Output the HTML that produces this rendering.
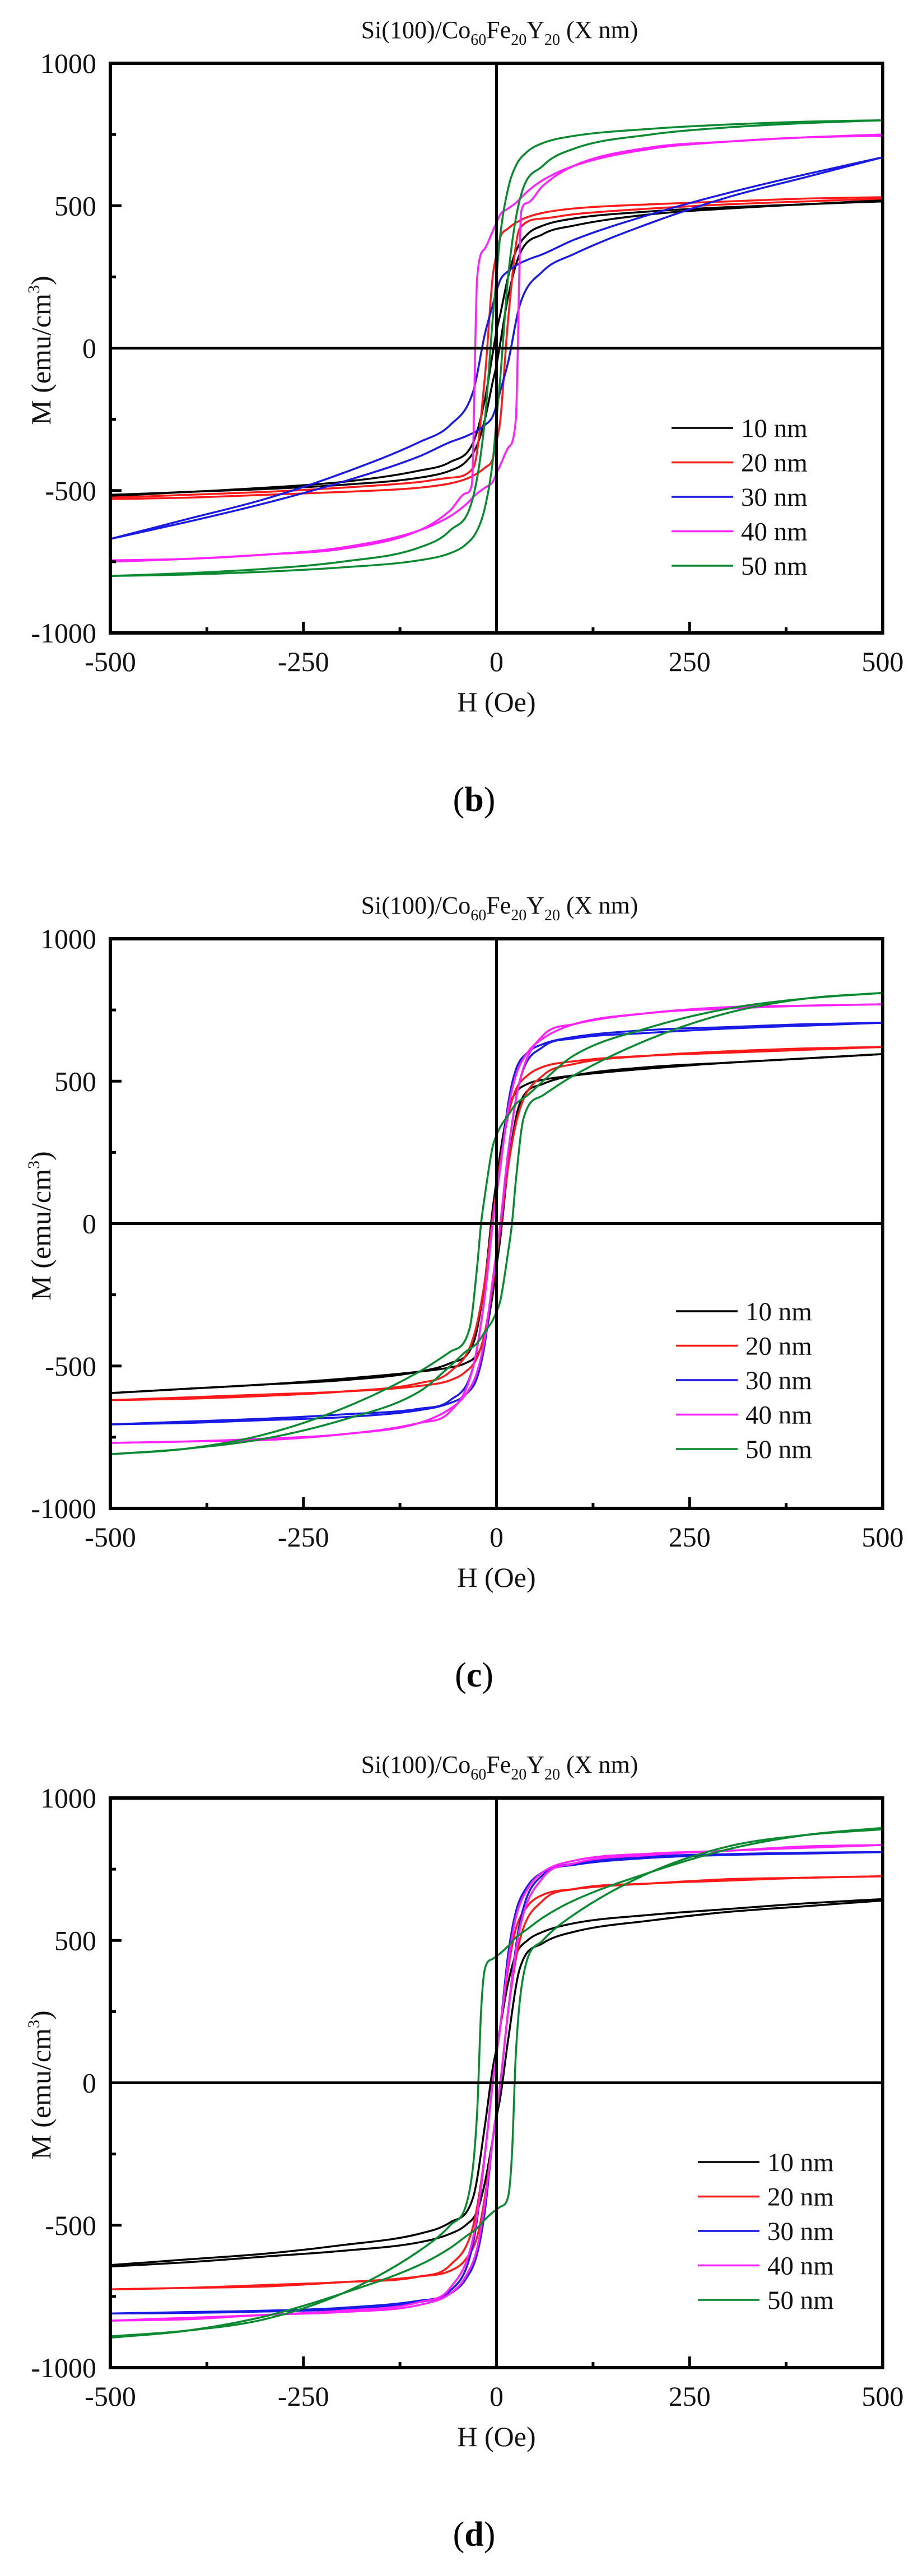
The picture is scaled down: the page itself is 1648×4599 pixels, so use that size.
<!DOCTYPE html>
<html><head><meta charset="utf-8">
<style>
html,body{margin:0;padding:0;background:#fff;}
svg{display:block;font-family:"Liberation Serif",serif;}
</style></head>
<body>
<svg id="fig" width="1648" height="4599" viewBox="0 0 1648 4599" xmlns="http://www.w3.org/2000/svg"></svg>
<script>
// ---- shared data ----
const xTicks = [-500,-250,0,250,500];
const xMinor = [-375,-125,125,375];
const yTicks = [-1000,-500,0,500,1000];
const yMinor = [-750,-250,250,750];
const seriesNames = ["10 nm","20 nm","30 nm","40 nm","50 nm"];
const seriesColors = ["#000000","#ff1a1a","#1a1ae6","#ff22ff","#0a8a30"];
// field values (Oe) for descending (upper) branch
const H_STD = [500,400,300,200,100,60,40,25,15,5,0,-5,-15,-30,-60,-100,-200,-300,-400,-500];
const H_B40 = [500,400,300,200,100,60,40,25,15,5,0,-5,-15,-25,-32,-40,-60,-100,-200,-300,-400,-500];
const H_WIDE = [500,400,300,200,100,60,40,25,15,5,0,-5,-15,-20,-25,-35,-60,-100,-200,-300,-400,-500];

// ---- panel (b) magnetization, upper branch (emu/cm3) ----
const b10 = [520,505,495,480,455,430,400,340,250,120,60,-20,-180,-330,-400,-430,-470,-490,-505,-515];
const b20 = [530,525,515,505,490,475,460,440,420,390,330,250,-100,-420,-455,-470,-490,-505,-515,-525];
const b30 = [670,610,545,470,380,330,310,290,270,240,200,150,50,-150,-270,-330,-440,-530,-600,-670];
const b40 = [745,740,725,700,640,590,550,510,490,470,440,410,350,250,-480,-510,-570,-640,-705,-725,-740,-750];
const b50 = [800,795,785,770,745,720,690,640,560,400,250,100,-250,-520,-640,-700,-750,-775,-790,-800];

// ---- panel (c) ----
const c10 = [595,580,565,545,520,505,490,460,400,250,150,50,-200,-420,-490,-520,-550,-565,-580,-595];
const c20 = [620,610,600,590,570,550,520,470,380,220,120,20,-200,-400,-520,-560,-590,-605,-615,-620];
const c30 = [705,700,690,680,655,630,600,540,420,200,100,0,-250,-500,-620,-650,-670,-685,-695,-705];
const c40 = [770,765,760,740,700,650,600,520,400,200,100,0,-250,-500,-660,-700,-740,-755,-765,-770];
const c50 = [810,790,755,690,590,500,450,420,380,340,310,270,100,0,-150,-370,-450,-520,-650,-740,-790,-810];

// ---- panel (d) ----
const d10 = [645,630,610,590,560,530,500,450,350,200,120,50,-150,-400,-490,-530,-570,-600,-620,-640];
const d20 = [725,720,710,700,680,660,620,540,400,200,100,0,-250,-500,-640,-680,-700,-715,-720,-725];
const d30 = [810,808,803,795,770,740,690,600,450,200,100,0,-250,-560,-730,-765,-790,-800,-805,-810];
const d40 = [835,830,815,805,780,740,680,580,420,200,100,0,-250,-540,-720,-770,-800,-815,-825,-835];
const d50 = [895,870,820,740,640,580,540,510,480,455,445,435,400,250,-100,-380,-500,-590,-740,-830,-870,-890];

const NS = "http://www.w3.org/2000/svg";
const svg = document.getElementById("fig");
function mk(tag, attrs, parent){
  const e = document.createElementNS(NS, tag);
  for (const k in attrs) e.setAttribute(k, attrs[k]);
  (parent||svg).appendChild(e);
  return e;
}

// monotone cubic (Fritsch-Carlson) path through points with monotone x
function monoPath(pts){
  const n=pts.length;
  const dx=[],dy=[],m=[];
  for(let i=0;i<n-1;i++){dx.push(pts[i+1][0]-pts[i][0]);dy.push(pts[i+1][1]-pts[i][1]);m.push(dy[i]/dx[i]);}
  const t=[m[0]];
  for(let i=1;i<n-1;i++){ t.push(m[i-1]*m[i]<=0?0:(m[i-1]+m[i])/2); }
  t.push(m[n-2]);
  for(let i=0;i<n-1;i++){
    if(m[i]===0){t[i]=0;t[i+1]=0;continue;}
    const a=t[i]/m[i], b=t[i+1]/m[i], s=a*a+b*b;
    if(s>9){const k=3/Math.sqrt(s);t[i]=k*a*m[i];t[i+1]=k*b*m[i];}
  }
  let d="M"+pts[0][0].toFixed(1)+","+pts[0][1].toFixed(1);
  for(let i=0;i<n-1;i++){
    const h=dx[i]/3;
    d+=" C"+(pts[i][0]+h).toFixed(1)+","+(pts[i][1]+t[i]*h).toFixed(1)+" "+
       (pts[i+1][0]-h).toFixed(1)+","+(pts[i+1][1]-t[i+1]*h).toFixed(1)+" "+
       pts[i+1][0].toFixed(1)+","+pts[i+1][1].toFixed(1);
  }
  return d;
}

function drawPanel(cfg){
  const L=197, R=1576, T=cfg.top, B=cfg.top+1017;
  const xs = h => L + (h+500)/1000*(R-L);
  const ys = m => B - (m+1000)/2000*(B-T);
  const g = mk("g",{});
  
  

  // title
  const title = mk("text",{x:892,y:T-45,"text-anchor":"middle","font-size":44,fill:"#111"},g);
  
  
  const parts=[["Si(100)/Co",0],["60",1],["Fe",0],["20",1],["Y",0],["20",1],[" (X nm)",0]];
  parts.forEach(p=>{
    const t=mk("tspan",{},title);
    if(p[1]){t.setAttribute("font-size","28");t.setAttribute("dy","12");}
    else if(title.childNodes.length>1){t.setAttribute("dy","-12");}
    t.textContent=p[0];
  });

  // series
  const sets = cfg.sets;
  sets.forEach((s,i)=>{
    const up = s.h.map((h,k)=>[xs(h),ys(s.m[k])]).reverse();
    const lo = s.h.map((h,k)=>[xs(-h),ys(-s.m[k])]);
    [up,lo].forEach((pts,bi)=>{
      const p = mk("path",{d:monoPath(pts),fill:"none",stroke:seriesColors[i],"stroke-width":3.5,"stroke-linejoin":"round"},g);
      
      
    });
  });

  // zero lines
  const zx = mk("line",{x1:L,x2:R,y1:ys(0),y2:ys(0),stroke:"#000","stroke-width":5},g);
  
  
  const zy = mk("line",{x1:xs(0),x2:xs(0),y1:T,y2:B,stroke:"#000","stroke-width":5},g);
  
  

  // frame
  const fr = mk("rect",{x:L,y:T,width:R-L,height:B-T,fill:"none",stroke:"#000","stroke-width":6},g);
  
  

  // ticks
  xTicks.forEach(v=>{
    const t = mk("line",{x1:xs(v),x2:xs(v),y1:B,y2:B-20,stroke:"#000","stroke-width":5},g);
    
    
    const lb = mk("text",{x:xs(v),y:B+68,"text-anchor":"middle","font-size":50,fill:"#111"},g);
    
    
    lb.textContent = v;
  });
  xMinor.forEach(v=>{
    const t = mk("line",{x1:xs(v),x2:xs(v),y1:B,y2:B-10,stroke:"#000","stroke-width":5},g);
    
    
  });
  yTicks.forEach(v=>{
    const t = mk("line",{x1:L,x2:L+20,y1:ys(v),y2:ys(v),stroke:"#000","stroke-width":5},g);
    
    
    const lb = mk("text",{x:172,y:ys(v)+17,"text-anchor":"end","font-size":50,fill:"#111"},g);
    
    
    lb.textContent = v;
  });
  yMinor.forEach(v=>{
    const t = mk("line",{x1:L,x2:L+10,y1:ys(v),y2:ys(v),stroke:"#000","stroke-width":5},g);
    
    
  });

  // axis titles
  const xt = mk("text",{x:xs(0),y:B+140,"text-anchor":"middle","font-size":50,fill:"#111"},g);
  
  
  xt.textContent = "H (Oe)";
  const cy=(T+B)/2+4;
  const yt = mk("text",{x:0,y:0,"text-anchor":"middle","font-size":50,fill:"#111",transform:"translate(90,"+cy+") rotate(-90)"},g);
  
  
  const a=mk("tspan",{},yt); a.textContent="M (emu/cm";
  const b=mk("tspan",{"font-size":30,dy:"-20"},yt); b.textContent="3";
  const c=mk("tspan",{dy:"20"},yt); c.textContent=")";

  // legend
  seriesNames.forEach((n,i)=>{
    const y = T + cfg.legTop + i*cfg.legStep;
    const ln = mk("line",{x1:cfg.legX,x2:cfg.legX+110,y1:y,y2:y,stroke:seriesColors[i],"stroke-width":3.5},g);
    
    
    const tx = mk("text",{x:cfg.legX+124,y:y+16,"font-size":47,fill:"#111"},g);
    
    
    tx.textContent = n;
  });

  // panel label
  const pl = mk("text",{x:xs(0)-40,y:B+318,"text-anchor":"middle","font-size":62,fill:"#000"},g);
  
  
  const p1=mk("tspan",{},pl); p1.textContent="(";
  const p2=mk("tspan",{"font-weight":"bold"},pl); p2.textContent=cfg.label;
  const p3=mk("tspan",{},pl); p3.textContent=")";
}

drawPanel({top:113,label:"b",legX:1199,legTop:651,legStep:61.5,
  sets:[{h:H_STD,m:b10},{h:H_STD,m:b20},{h:H_STD,m:b30},{h:H_B40,m:b40},{h:H_STD,m:b50}]});
drawPanel({top:1676,label:"c",legX:1207,legTop:665,legStep:61.5,
  sets:[{h:H_STD,m:c10},{h:H_STD,m:c20},{h:H_STD,m:c30},{h:H_STD,m:c40},{h:H_WIDE,m:c50}]});
drawPanel({top:3210,label:"d",legX:1246,legTop:650,legStep:61.5,
  sets:[{h:H_STD,m:d10},{h:H_STD,m:d20},{h:H_STD,m:d30},{h:H_STD,m:d40},{h:H_WIDE,m:d50}]});
</script>
</body></html>
